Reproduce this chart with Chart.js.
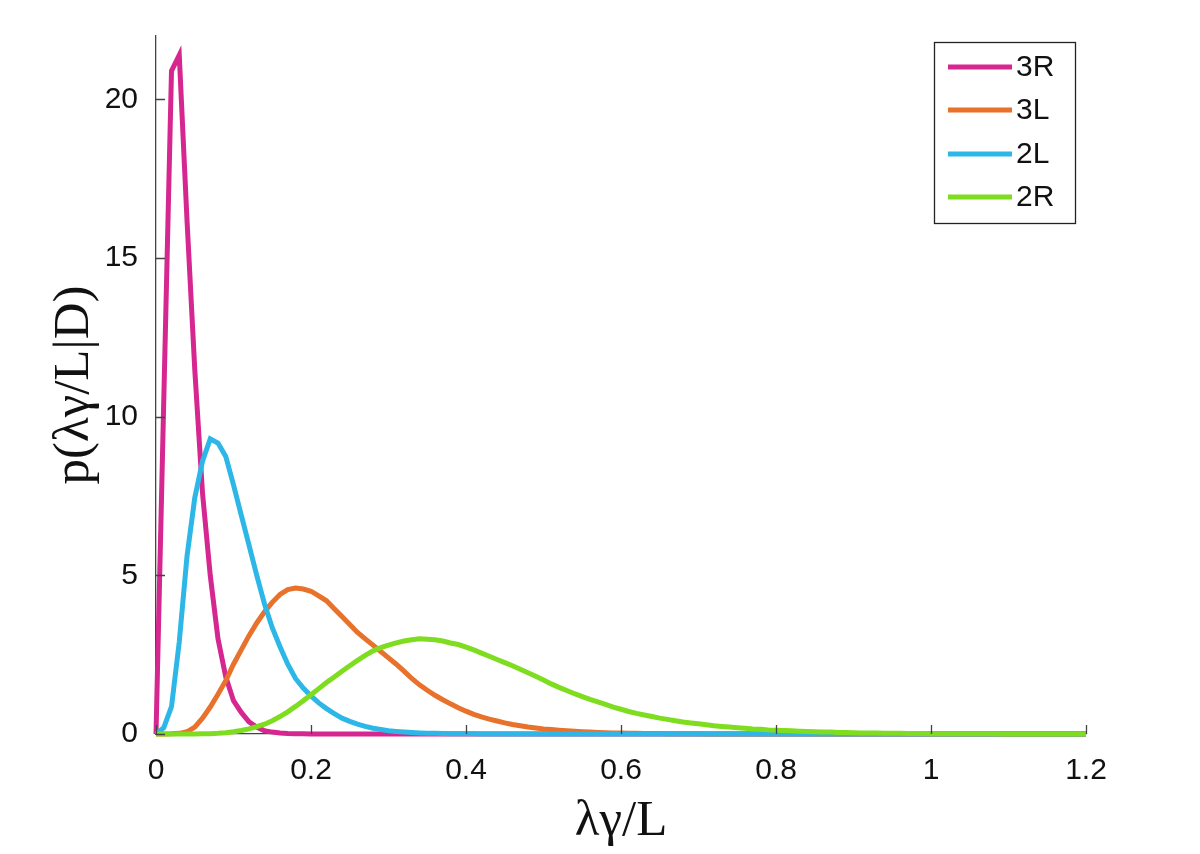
<!DOCTYPE html>
<html><head><meta charset="utf-8">
<script src="https://cdn.jsdelivr.net/npm/chart.js@4"></script>
<style>html,body{margin:0;padding:0;background:#fff;}#wrap{width:1200px;height:854px;}</style>
</head><body><div id="wrap"><canvas id="c" width="1200" height="854"></canvas></div>
<script>
const xValues = [
  0, 0.01, 0.02, 0.03, 0.04, 0.05, 0.06, 0.07, 0.08, 0.09,
  0.10, 0.11, 0.12, 0.13, 0.14, 0.15, 0.16, 0.17, 0.18, 0.19,
  0.20, 0.21, 0.22, 0.23, 0.24, 0.25, 0.26, 0.27, 0.28, 0.29,
  0.30, 0.31, 0.32, 0.33, 0.34, 0.35, 0.36, 0.37, 0.38, 0.39,
  0.40, 0.41, 0.42, 0.43, 0.44, 0.45, 0.46, 0.47, 0.48, 0.49,
  0.50, 0.51, 0.52, 0.53, 0.54, 0.55, 0.56, 0.57, 0.58, 0.59,
  0.60, 0.61, 0.62, 0.63, 0.64, 0.65, 0.66, 0.67, 0.68, 0.69,
  0.70, 0.71, 0.72, 0.73, 0.74, 0.75, 0.76, 0.77, 0.78, 0.79,
  0.80, 0.81, 0.82, 0.83, 0.84, 0.85, 0.86, 0.87, 0.88, 0.89,
  0.90, 0.91, 0.92, 0.93, 0.94, 0.95, 0.96, 0.97, 0.98, 0.99,
  1.00, 1.01, 1.02, 1.03, 1.04, 1.05, 1.06, 1.07, 1.08, 1.09,
  1.10, 1.11, 1.12, 1.13, 1.14, 1.15, 1.16, 1.17, 1.18, 1.19,
  1.20
];
const series3R = [
  0, 10.5, 20.9, 21.4, 16.2, 11.5, 7.6, 5.0, 3.0, 1.8,
  1.05, 0.68, 0.38, 0.22, 0.1, 0.06, 0.03, 0.015, 0.01, 0.005,
  0, 0, 0, 0, 0, 0, 0, 0, 0, 0,
  0, 0, 0, 0, 0, 0, 0, 0, 0, 0,
  0, 0, 0, 0, 0, 0, 0, 0, 0, 0,
  0, 0, 0, 0, 0, 0, 0, 0, 0, 0,
  0, 0, 0, 0, 0, 0, 0, 0, 0, 0,
  0, 0, 0, 0, 0, 0, 0, 0, 0, 0,
  0, 0, 0, 0, 0, 0, 0, 0, 0, 0,
  0, 0, 0, 0, 0, 0, 0, 0, 0, 0,
  0, 0, 0, 0, 0, 0, 0, 0, 0, 0,
  0, 0, 0, 0, 0, 0, 0, 0, 0, 0,
  0
];
const series3L = [
  0, 0, 0.005, 0.02, 0.07, 0.22, 0.5, 0.85, 1.25, 1.68,
  2.2, 2.65, 3.1, 3.5, 3.85, 4.15, 4.4, 4.55, 4.6, 4.57,
  4.5, 4.35, 4.2, 3.95, 3.7, 3.45, 3.2, 3.0, 2.8, 2.6,
  2.4, 2.2, 1.98, 1.75, 1.55, 1.38, 1.22, 1.08, 0.95, 0.83,
  0.72, 0.62, 0.54, 0.47, 0.41, 0.35, 0.30, 0.26, 0.22, 0.19,
  0.16, 0.14, 0.12, 0.10, 0.085, 0.07, 0.06, 0.05, 0.04, 0.035,
  0.03, 0.025, 0.02, 0.017, 0.014, 0.012, 0.01, 0.008, 0.006, 0.005,
  0.004, 0.003, 0.002, 0.002, 0.001, 0, 0, 0, 0, 0,
  0, 0, 0, 0, 0, 0, 0, 0, 0, 0,
  0, 0, 0, 0, 0, 0, 0, 0, 0, 0,
  0, 0, 0, 0, 0, 0, 0, 0, 0, 0,
  0, 0, 0, 0, 0, 0, 0, 0, 0, 0,
  0
];
const series2L = [
  0, 0.2, 0.86, 2.9, 5.6, 7.44, 8.6, 9.3, 9.17, 8.75,
  7.85, 6.9, 5.95, 5.0, 4.1, 3.35, 2.75, 2.2, 1.75, 1.45,
  1.2, 0.98, 0.8, 0.64, 0.5, 0.4, 0.31, 0.24, 0.18, 0.14,
  0.1, 0.08, 0.06, 0.045, 0.035, 0.025, 0.02, 0.015, 0.01, 0.008,
  0.005, 0.004, 0.003, 0.002, 0.002, 0.001, 0, 0, 0, 0,
  0, 0, 0, 0, 0, 0, 0, 0, 0, 0,
  0, 0, 0, 0, 0, 0, 0, 0, 0, 0,
  0, 0, 0, 0, 0, 0, 0, 0, 0, 0,
  0, 0, 0, 0, 0, 0, 0, 0, 0, 0,
  0, 0, 0, 0, 0, 0, 0, 0, 0, 0,
  0, 0, 0, 0, 0, 0, 0, 0, 0, 0,
  0, 0, 0, 0, 0, 0, 0, 0, 0, 0,
  0
];
const series2R = [
  0, 0, 0, 0, 0, 0.002, 0.005, 0.01, 0.02, 0.04,
  0.07, 0.11, 0.16, 0.23, 0.31, 0.42, 0.55, 0.7, 0.87, 1.05,
  1.24, 1.43, 1.62, 1.8, 1.98, 2.15, 2.32, 2.48, 2.62, 2.72,
  2.8, 2.87, 2.93, 2.97, 3.0, 2.99, 2.97, 2.93, 2.87, 2.82,
  2.74, 2.65, 2.55, 2.45, 2.35, 2.25, 2.15, 2.04, 1.93, 1.82,
  1.7, 1.58, 1.47, 1.37, 1.27, 1.18, 1.09, 1.01, 0.93, 0.85,
  0.78, 0.71, 0.65, 0.6, 0.55, 0.5, 0.46, 0.42, 0.38, 0.35,
  0.32, 0.29, 0.26, 0.24, 0.22, 0.2, 0.18, 0.16, 0.15, 0.13,
  0.12, 0.11, 0.1, 0.09, 0.08, 0.07, 0.065, 0.06, 0.05, 0.045,
  0.04, 0.035, 0.03, 0.028, 0.025, 0.022, 0.02, 0.017, 0.015, 0.013,
  0.011, 0.01, 0.009, 0.008, 0.007, 0.006, 0.005, 0.004, 0.004, 0.003,
  0.003, 0.002, 0.002, 0.002, 0.001, 0.001, 0.001, 0.001, 0.001, 0.001,
  0.001
];
const seriesLabels = ['3R', '3L', '2L', '2R'];
const seriesColors = ['#D6268F', '#E8712B', '#2CB7E6', '#7EDD1F'];
const xTicks = [0, 0.2, 0.4, 0.6, 0.8, 1, 1.2];
const xTickLabels = ['0', '0.2', '0.4', '0.6', '0.8', '1', '1.2'];
const yTicks = [0, 5, 10, 15, 20];
const yTickLabels = ['0', '5', '10', '15', '20'];
const xTitle = 'λγ/L';
const yTitle = 'p(λγ/L|D)';

const allSeries = [series3R, series3L, series2L, series2R];
const datasets = allSeries.map((s, k) => ({
  label: seriesLabels[k],
  data: xValues.map((x, i) => ({x: x, y: s[i]})),
  borderColor: seriesColors[k],
  backgroundColor: seriesColors[k],
  borderWidth: 5,
  pointRadius: 0,
  tension: 0,
  fill: false,
  clip: false,
  order: allSeries.length - k
}));

const tickFont = {family: "'Liberation Sans', Arial, sans-serif", size: 30};
const titleFont = {family: "'Liberation Serif', 'Times New Roman', serif", size: 51};

const inwardTicks = {
  id: 'inwardTicks',
  afterDatasetsDraw(chart) {
    const ctx = chart.ctx;
    const xs = chart.scales.x, ys = chart.scales.y;
    ctx.save();
    ctx.strokeStyle = '#444';
    ctx.lineWidth = 1.3;
    ctx.beginPath();
    xs.ticks.forEach(t => {
      const px = Math.round(xs.getPixelForValue(t.value)) + 0.5;
      ctx.moveTo(px, ys.bottom);
      ctx.lineTo(px, ys.bottom - 9);
    });
    ys.ticks.forEach(t => {
      const py = Math.round(ys.getPixelForValue(t.value)) + 0.5;
      ctx.moveTo(xs.left, py);
      ctx.lineTo(xs.left + 9, py);
    });
    ctx.stroke();
    ctx.restore();
  }
};

const boxLegend = {
  id: 'boxLegend',
  afterDraw(chart) {
    const ctx = chart.ctx;
    const ds = chart.data.datasets;
    const bx = 934.5, by = 42.5, bw = 141, bh = 181;
    ctx.save();
    ctx.fillStyle = '#fff';
    ctx.fillRect(bx, by, bw, bh);
    ctx.strokeStyle = '#222';
    ctx.lineWidth = 1.3;
    ctx.strokeRect(bx, by, bw, bh);
    const rowY = [67, 110, 154, 197];
    ctx.font = "30px 'Liberation Sans', Arial, sans-serif";
    ctx.textBaseline = 'middle';
    ctx.textAlign = 'left';
    ds.forEach((d, i) => {
      ctx.strokeStyle = d.borderColor;
      ctx.lineWidth = 5;
      ctx.beginPath();
      ctx.moveTo(948, rowY[i]);
      ctx.lineTo(1012, rowY[i]);
      ctx.stroke();
      ctx.fillStyle = '#111';
      ctx.fillText(d.label, 1016, rowY[i] + 1);
    });
    ctx.restore();
  }
};

new Chart(document.getElementById('c'), {
  type: 'line',
  data: {datasets: datasets},
  plugins: [inwardTicks, boxLegend],
  options: {
    responsive: false,
    animation: false,
    devicePixelRatio: 1,
    layout: {padding: {left: 0, top: 32, right: 114, bottom: 0}},
    plugins: {legend: {display: false}, tooltip: {enabled: false}, title: {display: false}},
    scales: {
      x: {
        type: 'linear', min: 0, max: 1.2,
        afterBuildTicks: s => { s.ticks = xTicks.map(v => ({value: v})); },
        afterFit: s => { s.height = 120; },
        grid: {display: false, drawTicks: false},
        border: {display: true, color: '#444', width: 1.3},
        ticks: {font: tickFont, color: '#111', padding: 19, maxRotation: 0, autoSkip: false,
          callback: (v, i) => xTickLabels[i]},
        title: {display: true, text: xTitle, font: titleFont, color: '#111', padding: {top: 0, bottom: 2}}
      },
      y: {
        type: 'linear', min: 0, max: 22,
        afterBuildTicks: s => { s.ticks = yTicks.map(v => ({value: v})); },
        afterFit: s => { s.width = 156; },
        grid: {display: false, drawTicks: false},
        border: {display: true, color: '#444', width: 1.3},
        ticks: {font: tickFont, color: '#111', padding: 18, autoSkip: false,
          callback: (v, i) => yTickLabels[i]},
        title: {display: true, text: yTitle, font: titleFont, color: '#111', padding: {top: 44, bottom: 0}}
      }
    }
  }
});
</script>
</body></html>
